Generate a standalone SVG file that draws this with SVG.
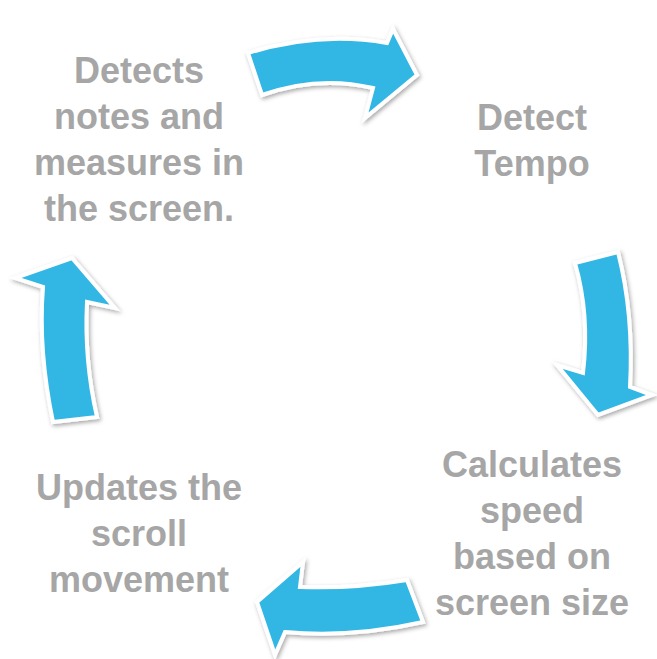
<svg xmlns="http://www.w3.org/2000/svg" width="657" height="659" viewBox="0 0 657 659">
<style>
.t{font-family:"Liberation Sans",Arial,sans-serif;font-weight:bold;font-size:36px;fill:#a6a6a6;text-anchor:middle}
.a{fill:#33b6e4;stroke:#ffffff;stroke-width:4;stroke-linejoin:miter;filter:url(#sh)}
</style>
<defs>
<filter id="sh" x="-20%" y="-20%" width="150%" height="150%">
<feDropShadow dx="1.5" dy="2" stdDeviation="2" flood-color="#000" flood-opacity="0.35"/>
</filter>
</defs>
<rect width="657" height="659" fill="#ffffff"/>
<g id="connectors">
<path class="a" d="M248,53 Q320,31 387,43 L393,29 L417,75 L365,118 L373,88 Q318,75 262,95 Z"/>
<path class="a" d="M575,263 L618,252 Q634,315 630,387 L652,395 L598,415 L557,365 L583,373 Q590,315 575,263 Z"/>
<path class="a" d="M407,580 Q352,589 300,587 L303,562 L257,602 L275,655 L285,632 Q352,638 423,622 Z"/>
<path class="a" d="M53,422 Q38,350 43,287 L15,278 L72,258 L115,308 L87,302 Q84,360 97,417 Z"/>
</g>
<g id="node-detect-notes">
<text class="t" x="139" y="83">Detects</text>
<text class="t" x="139" y="129">notes and</text>
<text class="t" x="139" y="175">measures in</text>
<text class="t" x="139" y="221">the screen.</text>
</g>
<g id="node-detect-tempo">
<text class="t" x="532" y="130">Detect</text>
<text class="t" x="532" y="176">Tempo</text>
</g>
<g id="node-calculates">
<text class="t" x="532" y="477">Calculates</text>
<text class="t" x="532" y="523">speed</text>
<text class="t" x="532" y="569">based on</text>
<text class="t" x="532" y="615">screen size</text>
</g>
<g id="node-updates">
<text class="t" x="139" y="500">Updates the</text>
<text class="t" x="139" y="546">scroll</text>
<text class="t" x="139" y="592">movement</text>
</g>
</svg>
